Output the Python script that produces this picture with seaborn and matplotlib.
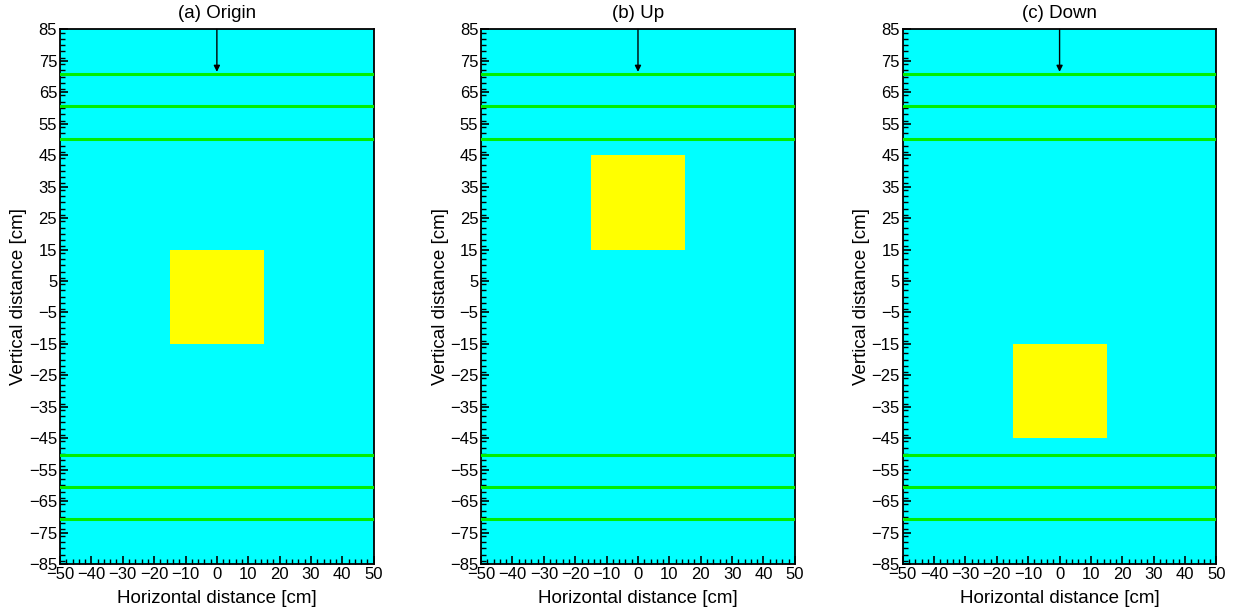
import numpy as np
import pandas as pd
import matplotlib
matplotlib.use("Agg")
import matplotlib.pyplot as plt
import seaborn as sns
from matplotlib.patches import Rectangle
from matplotlib.ticker import MultipleLocator

# panel setup
PANEL_TITLES = ["(a) Origin", "(b) Up", "(c) Down"]
BLOCK_CENTER_Y = [0, 30, -30]      # cm, yellow block centre per panel
BLOCK_HALF = 15                    # cm
LAYER_Y = [70.8, 60.5, 50.3, -50.3, -60.5, -70.8]
ARROW_X = 0
ARROW_TOP = 85
ARROW_TIP = 71.5
X_RANGE = [-50, 50]
Y_RANGE = [-85, 85]

sns.set_theme(style="white")
plt.rcParams['font.family'] = ['Liberation Sans', 'DejaVu Sans']
plt.rcParams['axes.unicode_minus'] = True
plt.rcParams['text.color'] = 'black'
plt.rcParams['axes.labelcolor'] = 'black'

fig = plt.figure(figsize=(12.4, 6.13), dpi=100)
lefts = [0.0484, 0.388, 0.728]
axes = [fig.add_axes([l, 0.080, 0.2530, 0.872]) for l in lefts]

layers = pd.DataFrame({
    "x": np.tile(X_RANGE, len(LAYER_Y)),
    "y": np.repeat(LAYER_Y, 2),
    "layer": np.repeat(np.arange(len(LAYER_Y)), 2),
})

for ax, title, cy in zip(axes, PANEL_TITLES, BLOCK_CENTER_Y):
    ax.set_facecolor("#00FFFF")
    ax.add_patch(Rectangle((-BLOCK_HALF, cy - BLOCK_HALF), 2 * BLOCK_HALF, 2 * BLOCK_HALF,
                           facecolor="#FFFF00", edgecolor="none", zorder=2))
    sns.lineplot(data=layers, x="x", y="y", units="layer", estimator=None,
                 color="#00EE00", lw=2.2, ax=ax, zorder=3, legend=False)
    ax.annotate("", xy=(ARROW_X, ARROW_TIP), xytext=(ARROW_X, ARROW_TOP),
                arrowprops=dict(arrowstyle="-|>", color="black", lw=1.0,
                                mutation_scale=9, shrinkA=0, shrinkB=0), zorder=4)
    ax.set_xlim(X_RANGE)
    ax.set_ylim(Y_RANGE)
    ax.xaxis.set_major_locator(MultipleLocator(10))
    ax.xaxis.set_minor_locator(MultipleLocator(2))
    ax.set_yticks(np.arange(-85, 86, 10))
    ax.yaxis.set_minor_locator(MultipleLocator(2))
    ax.tick_params(which="both", direction="in", top=False, right=False,
                   bottom=True, left=True, labelsize=12, pad=2, colors="black")
    ax.tick_params(which="major", length=6, width=1.2)
    ax.tick_params(which="minor", length=3.5, width=1.0)
    for s in ax.spines.values():
        s.set_color("black")
        s.set_linewidth(1.3)
    ax.set_xlabel("Horizontal distance [cm]", fontsize=13.5, labelpad=6)
    ax.set_ylabel("Vertical distance [cm]", fontsize=13.5, labelpad=1)
    ax.set_title(title, fontsize=13.5, pad=8, color="black")

plt.savefig("out.png", dpi=100)
plt.close()
